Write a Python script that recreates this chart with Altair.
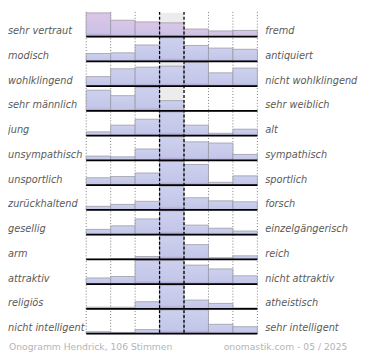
import altair as alt
import pandas as pd

left_labels = ["sehr vertraut", "modisch", "wohlklingend", "sehr männlich", "\u00a0jung",
               "unsympathisch", "unsportlich", "zurückhaltend", "gesellig", "arm",
               "attraktiv", "religiös", "nicht intelligent"]
right_labels = ["fremd", "antiquiert", "nicht wohlklingend", "sehr weiblich", "alt",
                "sympathisch", "sportlich", "forsch", "einzelgängerisch", "reich",
                "nicht attraktiv", "atheistisch", "sehr intelligent"]
values = [
    [100, 69, 62, 58, 32, 24, 26],
    [33, 36, 69, 100, 67, 56, 51],
    [40, 73, 80, 84, 100, 56, 76],
    [87, 64, 100, 43, 0, 0, 0],
    [16, 44, 69, 100, 44, 10, 27],
    [18, 15, 48, 100, 78, 73, 25],
    [31, 36, 51, 100, 87, 12, 39],
    [15, 23, 36, 100, 51, 38, 34],
    [22, 37, 66, 100, 40, 27, 15],
    [0, 3, 12, 100, 62, 7, 15],
    [26, 32, 100, 100, 80, 64, 35],
    [7, 7, 30, 100, 37, 23, 4],
    [8, 5, 17, 100, 100, 39, 29],
]
footer_left = "Onogramm Hendrick, 106 Stimmen"
footer_right = "onomastik.com - 05 / 2025"

n_rows = len(left_labels)
n_cols = len(values[0])
W = 175
H = 329
FULL = 0.96

bars = pd.DataFrame([
    {"row": r, "col": c, "v": v, "first": r == 0}
    for r, row in enumerate(values) for c, v in enumerate(row)
])
rows_df = pd.DataFrame({"row": list(range(n_rows)), "left": left_labels, "right": right_labels})

xs = alt.Scale(domain=[0, n_cols], nice=False, zero=False)
ys = alt.Scale(domain=[0, n_rows], nice=False, zero=False, reverse=True)

base_bars = alt.Chart(bars).transform_calculate(
    x0="datum.col", x1="datum.col + 1",
    y0="datum.row + 1", y1="datum.row + 1 - datum.v / 100 * %f" % FULL,
)

def grad(top, mid, bottom):
    return alt.Gradient(
        gradient="linear",
        stops=[alt.GradientStop(color=top, offset=0),
               alt.GradientStop(color=mid, offset=0.85),
               alt.GradientStop(color=bottom, offset=1)],
        x1=0, x2=0, y1=0, y2=1)

enc = dict(
    x=alt.X("x0:Q", scale=xs, axis=None), x2="x1:Q",
    y=alt.Y("y0:Q", scale=ys, axis=None), y2="y1:Q",
)

bars_first = base_bars.transform_filter("datum.first").mark_rect(
    color=grad("#dcc6e7", "#cbc2e6", "#a898cc"), stroke="#9a9aa6", strokeWidth=0.8
).encode(**enc)
bars_rest = base_bars.transform_filter("!datum.first").mark_rect(
    color=grad("#cdd1ee", "#c3c6e8", "#a89ccc"), stroke="#9a9aa6", strokeWidth=0.8
).encode(**enc)

bg = alt.Chart(rows_df).transform_calculate(
    x0="3", x1="4", y0="datum.row + 1", y1="datum.row + 1 - %f" % FULL
).mark_rect(color="#ececec").encode(
    x=alt.X("x0:Q", scale=xs, axis=None), x2="x1:Q",
    y=alt.Y("y0:Q", scale=ys, axis=None), y2="y1:Q",
)

vlines = pd.DataFrame({"x": list(range(n_cols + 1))})
vlines["center"] = vlines["x"].isin([3, 4])
vlines["y0"] = 0
vlines["y1"] = n_rows

dotted = alt.Chart(vlines).transform_filter("!datum.center").mark_rule(
    color="#777", strokeWidth=1, strokeDash=[1, 2]
).encode(x=alt.X("x:Q", scale=xs, axis=None), y=alt.Y("y0:Q", scale=ys, axis=None), y2="y1:Q")

dashed = alt.Chart(vlines).transform_filter("datum.center").mark_rule(
    color="#000", strokeWidth=1.3, strokeDash=[3, 2]
).encode(x=alt.X("x:Q", scale=xs, axis=None), y=alt.Y("y0:Q", scale=ys, axis=None), y2="y1:Q")

baselines = alt.Chart(rows_df).transform_calculate(
    yb="datum.row + 1", x0="0", x1="%d" % n_cols
).mark_rule(color="#000", strokeWidth=2).encode(
    x=alt.X("x0:Q", scale=xs, axis=None), x2="x1:Q",
    y=alt.Y("yb:Q", scale=ys, axis=None),
)

label_common = dict(font="DejaVu Sans", fontSize=10, fontStyle="italic", color="#5a5a5a", baseline="middle")
lab_y = alt.Y("yl:Q", scale=ys, axis=None)
left_text = alt.Chart(rows_df).transform_calculate(yl="datum.row + 0.78").mark_text(
    align="left", **label_common
).encode(x=alt.value(-80), y=lab_y, text="left:N")
right_text = alt.Chart(rows_df).transform_calculate(yl="datum.row + 0.78").mark_text(
    align="left", **label_common
).encode(x=alt.value(W + 8), y=lab_y, text="right:N")

foot = pd.DataFrame({"t": [footer_left], "r": [footer_right]})
foot_left = alt.Chart(foot).mark_text(
    align="left", baseline="middle", font="DejaVu Sans", fontSize=9.4, color="#b4b4b4"
).encode(x=alt.value(-79), y=alt.value(H + 14), text="t:N")
foot_right = alt.Chart(foot).mark_text(
    align="right", baseline="middle", font="DejaVu Sans", fontSize=9.4, color="#b4b4b4"
).encode(x=alt.value(W + 92), y=alt.value(H + 14), text="r:N")

chart = alt.layer(
    bg, dotted, bars_first, bars_rest, dashed, baselines, left_text, right_text, foot_left, foot_right
).properties(
    width=W, height=H,
    autosize=alt.AutoSizeParams(type="none"),
    padding={"left": 80, "top": 0, "right": 107, "bottom": 23},
).configure_view(stroke=None)

chart.save("out.html", embed_options={"renderer": "svg", "actions": False})
